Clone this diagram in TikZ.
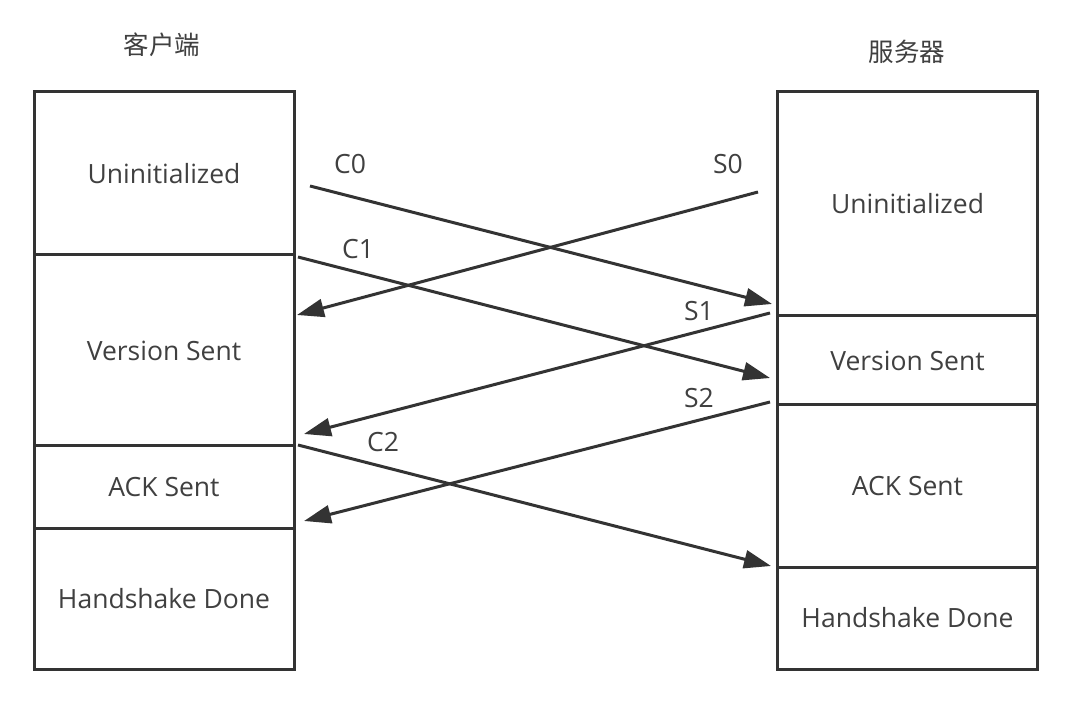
\documentclass[tikz,border=0pt]{standalone}
\usepackage{fontspec}
\setmainfont{Open Sans}
\newfontfamily\cjk{Noto Sans CJK SC}
\usetikzlibrary{arrows.meta}
\definecolor{ink}{HTML}{333333}
\definecolor{txt}{HTML}{404040}
\begin{document}
\begin{tikzpicture}[x=1pt,y=-1pt,
  cell/.style={draw=ink, line width=3pt, rectangle, inner sep=0pt, minimum width=260pt, text=txt, font=\fontsize{26.5}{30}\selectfont},
  msg/.style={draw=ink, line width=3pt, -{Triangle[length=27pt,width=18pt]}},
  lbl/.style={text=txt, font=\fontsize{26.5}{30}\selectfont, inner sep=0pt},
  ttl/.style={text=txt, font=\cjk\fontsize{25.5}{30}\selectfont, inner sep=0pt}]
\useasboundingbox[fill=white] (0,0) rectangle (1090,708);
% titles
\node[ttl] (tc) at (162,45) {客户端};
\node[ttl] (ts) at (907,52) {服务器};
% client column
\node[cell, minimum height=163pt] (c1) at (164,173.5) {Uninitialized};
\node[cell, minimum height=191pt] (c2) at (164,350.5) {Version Sent};
\node[cell, minimum height=82pt] (c3) at (164,487) {ACK Sent};
\node[cell, minimum height=141pt] (c4) at (164,598.5) {Handshake Done};
% server column
\node[cell, minimum height=224pt] (s1) at (907.5,204) {Uninitialized};
\node[cell, minimum height=89pt] (s2) at (907.5,360.5) {Version Sent};
\node[cell, minimum height=162pt] (s3) at (907.5,486) {ACK Sent};
\node[cell, minimum height=102pt] (s4) at (907.5,618) {Handshake Done};
% arrow end points
\coordinate (c0a) at (310,186);
\coordinate (c0b) at (772,304);
\coordinate (s0a) at (758,192);
\coordinate (s0b) at (297,315);
\coordinate (c1a) at (298,257);
\coordinate (c1b) at (770,378);
\coordinate (s1a) at (770,313);
\coordinate (s1b) at (304,434);
\coordinate (s2a) at (770,402);
\coordinate (s2b) at (304,521);
\coordinate (c2a) at (298,445);
\coordinate (c2b) at (771,566);
% messages
\draw[msg] (c0a) -- (c0b);
\draw[msg] (s0a) -- (s0b);
\draw[msg] (c1a) -- (c1b);
\draw[msg] (s1a) -- (s1b);
\draw[msg] (s2a) -- (s2b);
\draw[msg] (c2a) -- (c2b);
% labels
\node[lbl] (lc0) at (350,164) {C0};
\node[lbl] (ls0) at (728,164) {S0};
\node[lbl] (lc1) at (358,249) {C1};
\node[lbl] (ls1) at (699,311) {S1};
\node[lbl] (ls2) at (699,398) {S2};
\node[lbl] (lc2) at (383,442) {C2};
\end{tikzpicture}
\end{document}
